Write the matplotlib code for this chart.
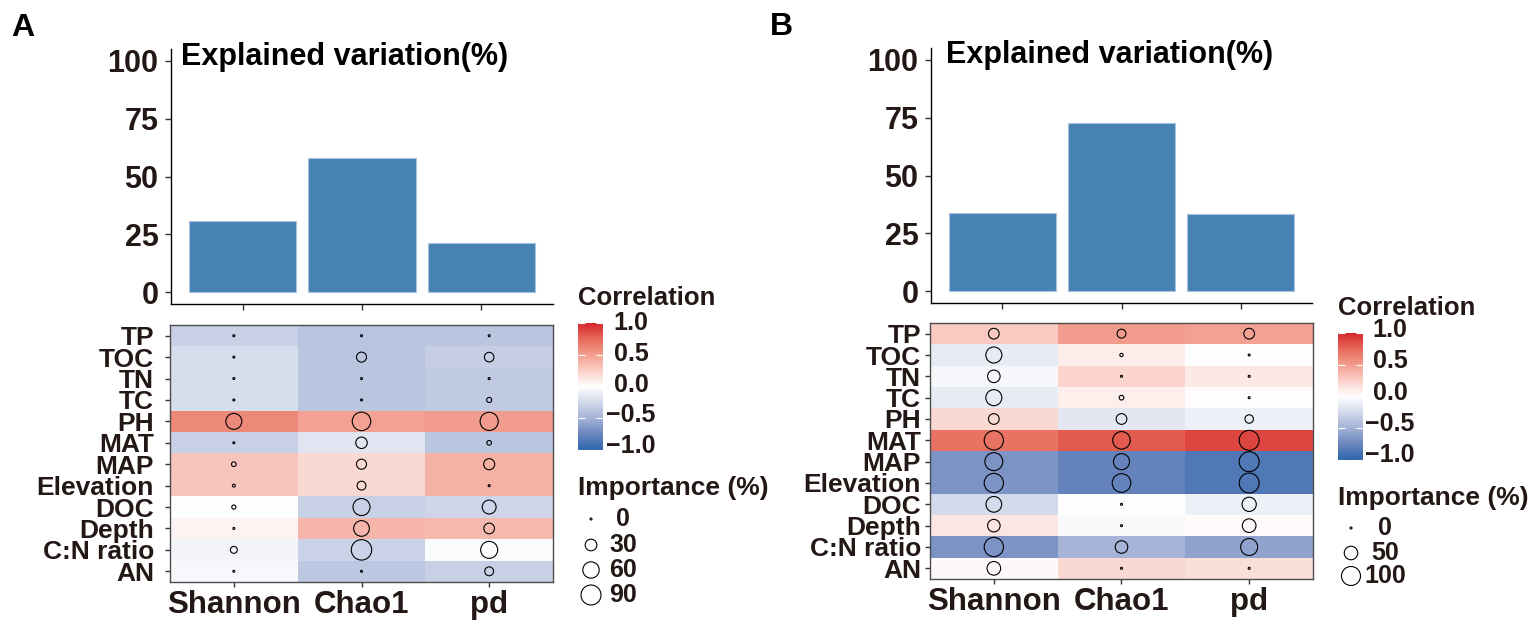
import numpy as np
import matplotlib
matplotlib.use("Agg")
import matplotlib.pyplot as plt
from matplotlib.colors import LinearSegmentedColormap, Normalize
from matplotlib.cm import ScalarMappable

plt.rcParams['font.family'] = ['Liberation Sans', 'DejaVu Sans']
plt.rcParams['font.weight'] = 'bold'

W, H = 1537, 625
TXT = '#231815'

indices = ['Shannon', 'Chao1', 'pd']
factors = ['TP', 'TOC', 'TN', 'TC', 'PH', 'MAT', 'MAP', 'Elevation',
           'DOC', 'Depth', 'C:N ratio', 'AN']

# explained variation (%) per diversity index
var_a = [31, 58, 21.5]
var_b = [34, 72.5, 33.5]

# correlation (rows = factors, cols = Shannon, Chao1, pd)
corr_a = [[-0.30, -0.38, -0.37],
          [-0.22, -0.37, -0.32],
          [-0.22, -0.37, -0.34],
          [-0.22, -0.37, -0.34],
          [0.60, 0.48, 0.50],
          [-0.30, -0.17, -0.37],
          [0.30, 0.20, 0.40],
          [0.30, 0.20, 0.40],
          [0.00, -0.30, -0.27],
          [0.06, 0.38, 0.36],
          [-0.07, -0.29, -0.02],
          [-0.04, -0.36, -0.30]]

# importance (%)
imp_a = [[0, 0, 0],
         [0, 22, 20],
         [0, 0, 0],
         [0, 0, 5],
         [57, 77, 74],
         [0, 29, 4],
         [4, 22, 27],
         [1, 17, 0],
         [3, 65, 43],
         [0, 55, 25],
         [10, 94, 65],
         [0, 0, 17]]

corr_b = [[0.28, 0.50, 0.48],
          [-0.13, 0.10, 0.00],
          [-0.05, 0.22, 0.12],
          [-0.13, 0.08, 0.01],
          [0.20, -0.15, -0.10],
          [0.70, 0.80, 0.88],
          [-0.67, -0.77, -0.85],
          [-0.67, -0.77, -0.85],
          [-0.24, 0.00, -0.10],
          [0.13, -0.03, 0.02],
          [-0.67, -0.48, -0.58],
          [0.03, 0.20, 0.17]]

imp_b = [[31, 21, 31],
         [71, 2, 0],
         [43, 0, 0],
         [71, 5, 0],
         [31, 31, 19],
         [103, 85, 110],
         [89, 71, 110],
         [103, 96, 110],
         [68, 0, 56],
         [43, 0, 51],
         [103, 43, 80],
         [51, 0, 0]]

cmap = LinearSegmentedColormap.from_list('corr', [
    (0.0, '#2C65AC'), (0.125, '#6A86BE'), (0.25, '#A3B2D6'),
    (0.375, '#D2D9EB'), (0.5, '#FFFFFF'), (0.625, '#FAD0C8'),
    (0.75, '#F39E8F'), (0.875, '#E66A58'), (1.0, '#D6262B')])


def px_rect(x0, y0, x1, y1):
    return [x0 / W, 1 - y1 / H, (x1 - x0) / W, (y1 - y0) / H]


def size_of(v, vmax, smax, smin=2.1):
    v = np.clip(np.asarray(v, dtype=float), 0, None)
    return smin + v / vmax * (smax - smin)


def draw_bars(fig, rect, values):
    ax = fig.add_axes(rect)
    ax.bar(range(1, 4), values, width=0.9, color='#4682B4',
           edgecolor='#A9C4DE', linewidth=0.8)
    ax.set_xlim(0.4, 3.6)
    ax.set_ylim(-5, 105)
    ax.set_yticks([0, 25, 50, 75, 100])
    ax.set_xticks([1, 2, 3])
    ax.set_xticklabels([])
    for s in ['top', 'right']:
        ax.spines[s].set_visible(False)
    for s in ['left', 'bottom']:
        ax.spines[s].set_linewidth(1.0)
    ax.tick_params(axis='both', length=4, width=1.0, color='#333333')
    ax.tick_params(axis='y', labelsize=22, labelcolor=TXT, pad=5)
    ax.set_facecolor('none')
    return ax


def draw_heat(fig, rect, corr, imp, vmax, smax, ypad):
    ax = fig.add_axes(rect)
    ax.imshow(np.array(corr), cmap=cmap, vmin=-1, vmax=1, aspect='auto',
              origin='upper', extent=(0.5, 3.5, len(factors) + 0.5, 0.5),
              interpolation='nearest')
    xs, ys = np.meshgrid(np.arange(1, 4), np.arange(1, len(factors) + 1))
    ax.scatter(xs.ravel(), ys.ravel(), s=size_of(np.array(imp).ravel(), vmax, smax),
               facecolors='none', edgecolors='black', linewidths=0.8)
    ax.set_xlim(0.5, 3.5)
    ax.set_ylim(len(factors) + 0.5, 0.5)
    ax.set_xticks(range(1, 4))
    ax.set_xticklabels(indices)
    ax.set_yticks(range(1, len(factors) + 1))
    ax.set_yticklabels(factors)
    for s in ax.spines.values():
        s.set_color('#4d4d4d')
        s.set_linewidth(1.0)
    ax.tick_params(axis='both', length=3.5, width=1.0, color='#333333')
    ax.tick_params(axis='y', labelsize=19, labelcolor=TXT, pad=ypad)
    ax.tick_params(axis='x', labelsize=22.5, labelcolor=TXT, pad=2)
    return ax


def draw_colorbar(fig, ov, x0, y0, x1, y1, lab_x, lab_top, lab_bot):
    cax = fig.add_axes(px_rect(x0, y0, x1, y1))
    cb = fig.colorbar(ScalarMappable(Normalize(-1, 1), cmap), cax=cax)
    cb.outline.set_visible(False)
    cb.set_ticks([-1, -0.5, 0, 0.5, 1])
    cax.yaxis.set_ticks_position('both')
    cax.tick_params(direction='in', color='white', length=5, width=0.8,
                    labelright=False, labelleft=False)
    for v in [1.0, 0.5, 0.0, -0.5, -1.0]:
        y = lab_top + (1 - v) / 2 * (lab_bot - lab_top)
        lab = f'{v:.1f}'.replace('-', '\u2212')
        ov.text(lab_x, y, lab, ha='center', va='center', fontsize=18, color=TXT)


def draw_size_legend(ov, title_x, title_y, cx, ys, lab_x, values, vmax, smax):
    ov.text(title_x, title_y, 'Importance (%)', ha='left', va='baseline',
            fontsize=19, color=TXT)
    ov.scatter([cx] * len(values), ys, s=size_of(values, vmax, smax),
               facecolors='none', edgecolors='black', linewidths=0.8)
    for v, y in zip(values, ys):
        ov.text(lab_x, y, str(v), ha='center', va='center', fontsize=18, color=TXT)


fig = plt.figure(figsize=(W / 100, H / 100), dpi=100)

# panel A
draw_bars(fig, px_rect(171, 49, 553, 304), var_a)
draw_heat(fig, px_rect(170, 325, 553, 582), corr_a, imp_a, 90, 207, 8)

# panel B
draw_bars(fig, px_rect(931, 48, 1312, 303), var_b)
draw_heat(fig, px_rect(930, 323, 1313, 579), corr_b, imp_b, 100, 187, 3)

# overlay for titles and legends, in pixel units
ov = fig.add_axes([0, 0, 1, 1])
ov.set_xlim(0, W)
ov.set_ylim(H, 0)
ov.axis('off')

ov.text(11, 36, 'A', fontsize=23, color='black', va='baseline')
ov.text(770, 35, 'B', fontsize=23, color='black', va='baseline')
ov.text(181, 65, 'Explained variation(%)', fontsize=22, color='black', va='baseline')
ov.text(946, 63, 'Explained variation(%)', fontsize=22, color='black', va='baseline')

ov.text(578, 305, 'Correlation', fontsize=18.5, color=TXT, va='baseline')
draw_colorbar(fig, ov, 578, 323, 603, 450, 631, 323, 446)
draw_size_legend(ov, 578, 495, 591, [519, 545, 570, 595], 623, [0, 30, 60, 90], 90, 207)

ov.text(1338, 315, 'Correlation', fontsize=18.5, color=TXT, va='baseline')
draw_colorbar(fig, ov, 1338, 333, 1363, 460, 1390, 330, 455)
draw_size_legend(ov, 1338, 505, 1351, [528, 553, 576], 1385, [0, 50, 100], 100, 187)

fig.savefig('out.png', dpi=100)
